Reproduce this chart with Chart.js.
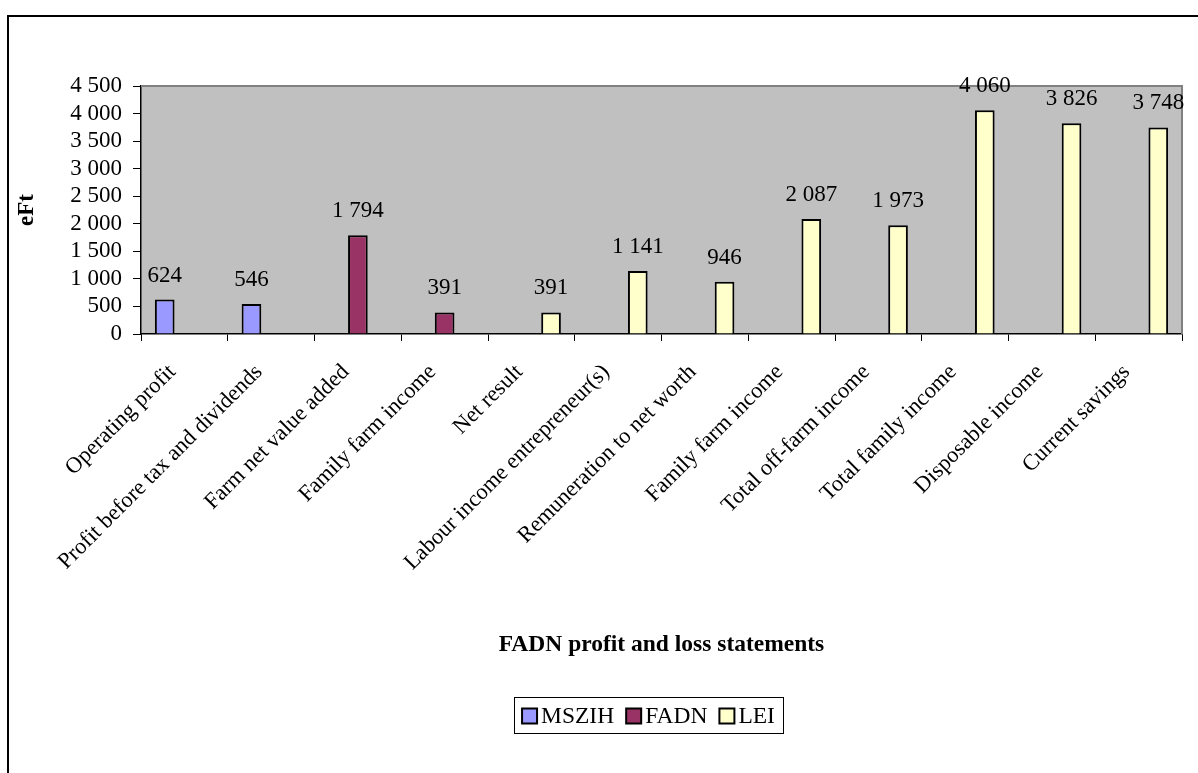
<!DOCTYPE html>
<html>
<head>
<meta charset="utf-8">
<script src="https://cdn.jsdelivr.net/npm/chart.js@4/dist/chart.umd.min.js"></script>
<style>
html,body{margin:0;padding:0;background:#fff;}
canvas{display:block;}
</style>
</head>
<body>
<canvas id="c" width="1198" height="773"></canvas>
<script>
const categories = ["Operating profit","Profit before tax and dividends","Farm net value added","Family farm income","Net result","Labour income entrepreneur(s)","Remuneration to net worth","Family farm income","Total off-farm income","Total family income","Disposable income","Current savings"];
const mszih = [624, 546, null, null, null, null, null, null, null, null, null, null];
const fadn  = [null, null, 1794, 391, null, null, null, null, null, null, null, null];
const lei   = [null, null, null, null, 391, 1141, 946, 2087, 1973, 4060, 3826, 3748];
const seriesNames = ["MSZIH", "FADN", "LEI"];
const seriesColors = ["#9999FF", "#993366", "#FFFFCC"];
const yTicks = [0, 500, 1000, 1500, 2000, 2500, 3000, 3500, 4000, 4500];

const SERIF = "'Liberation Serif', 'Times New Roman', serif";
function fmt(v){ return String(v).replace(/\B(?=(\d{3})+(?!\d))/g, ' '); }

const framePlugin = {
  id: 'framePlugin',
  beforeDraw(chart){
    const {ctx, chartArea:a} = chart;
    ctx.save();
    ctx.fillStyle = '#fff';
    ctx.fillRect(0,0,chart.width,chart.height);
    ctx.strokeStyle = '#000';
    ctx.lineWidth = 2;
    ctx.strokeRect(8,16,chart.width+20,chart.height+20);
    ctx.fillStyle = '#C0C0C0';
    ctx.fillRect(a.left, a.top, a.right-a.left, a.bottom-a.top);
    ctx.restore();
  },
  afterDatasetsDraw(chart){
    const {ctx, chartArea:a} = chart;
    ctx.save();
    ctx.strokeStyle = '#808080';
    ctx.lineWidth = 2;
    ctx.beginPath();
    ctx.moveTo(a.left, a.top);
    ctx.lineTo(a.right, a.top);
    ctx.lineTo(a.right, a.bottom);
    ctx.stroke();
    ctx.fillStyle = '#000';
    ctx.font = "23px " + SERIF;
    ctx.textAlign = 'center';
    ctx.textBaseline = 'alphabetic';
    chart.data.datasets.forEach((ds, di) => {
      const meta = chart.getDatasetMeta(di);
      meta.data.forEach((bar, i) => {
        const v = ds.data[i];
        if (v === null || v === undefined) return;
        ctx.fillText(fmt(v), bar.x, bar.y - 18);
      });
    });
    ctx.restore();
  },
  afterDraw(chart){
    const {ctx, chartArea:a} = chart;
    ctx.save();
    ctx.font = "23.5px " + SERIF;
    ctx.textBaseline = 'middle';
    ctx.textAlign = 'left';
    const sq = 15, gapSq = 4, gapItem = 12, padX = 8;
    let total = 0;
    const widths = chart.data.datasets.map(ds => ctx.measureText(ds.label).width);
    widths.forEach((w,i)=>{ total += sq + gapSq + w + (i < widths.length-1 ? gapItem : 0); });
    const boxW = total + padX*2;
    const cx = (a.left + a.right)/2 - 13;
    const boxL = cx - boxW/2, boxT = 697, boxH = 36;
    ctx.strokeStyle = '#000';
    ctx.lineWidth = 1;
    ctx.strokeRect(Math.round(boxL)+0.5, boxT+0.5, Math.round(boxW), boxH);
    let x = boxL + padX;
    const cy = boxT + boxH/2 + 1;
    chart.data.datasets.forEach((ds, i) => {
      ctx.fillStyle = ds.backgroundColor;
      ctx.fillRect(x, cy - sq/2, sq, sq);
      ctx.strokeStyle = '#000';
      ctx.lineWidth = 2;
      ctx.strokeRect(x, cy - sq/2, sq, sq);
      ctx.fillStyle = '#000';
      ctx.fillText(ds.label, x + sq + gapSq, cy + 1);
      x += sq + gapSq + widths[i] + gapItem;
    });
    ctx.restore();
  }
};

const series = [mszih, fadn, lei];
new Chart(document.getElementById('c'), {
  type: 'bar',
  data: {
    labels: categories,
    datasets: series.map((d, i) => ({
      label: seriesNames[i],
      data: d,
      backgroundColor: seriesColors[i],
      borderColor: '#000',
      borderWidth: 2,
      categoryPercentage: 0.68,
      barPercentage: 1.0
    }))
  },
  options: {
    responsive: false,
    devicePixelRatio: 1,
    animation: false,
    layout: { padding: { left: 0, top: 86, right: 16, bottom: 0 } },
    plugins: {
      legend: { display: false },
      tooltip: { enabled: false }
    },
    scales: {
      x: {
        afterFit(scale){ scale.height = 773 - 334; },
        grid: { display: true, drawOnChartArea: false, drawTicks: true, tickLength: 7, color: '#000', offset: true },
        border: { display: true, color: '#000', width: 1.5 },
        ticks: {
          autoSkip: false, minRotation: 45, maxRotation: 45,
          color: '#000', padding: 18, labelOffset: -12,
          font: { family: SERIF, size: 22.5 }
        },
        title: {
          display: true, text: 'FADN profit and loss statements', color: '#000',
          font: { family: SERIF, size: 23.5, weight: 'bold' },
          padding: { top: 0, bottom: 114 }
        }
      },
      y: {
        min: 0, max: 4500,
        afterFit(scale){ scale.width = 141; },
        afterBuildTicks(scale){ scale.ticks = yTicks.map(v => ({ value: v })); },
        grid: { display: true, drawOnChartArea: false, drawTicks: true, tickLength: 8, color: '#000' },
        border: { display: true, color: '#000', width: 1.5 },
        ticks: {
          autoSkip: false,
          color: '#000', padding: 11,
          font: { family: SERIF, size: 23 },
          callback: (v) => fmt(v)
        },
        title: {
          display: true, text: 'eFt', color: '#000',
          font: { family: SERIF, size: 23, weight: 'bold' },
          padding: { top: 13, bottom: 0 }
        }
      }
    }
  },
  plugins: [framePlugin]
});
</script>
</body>
</html>
